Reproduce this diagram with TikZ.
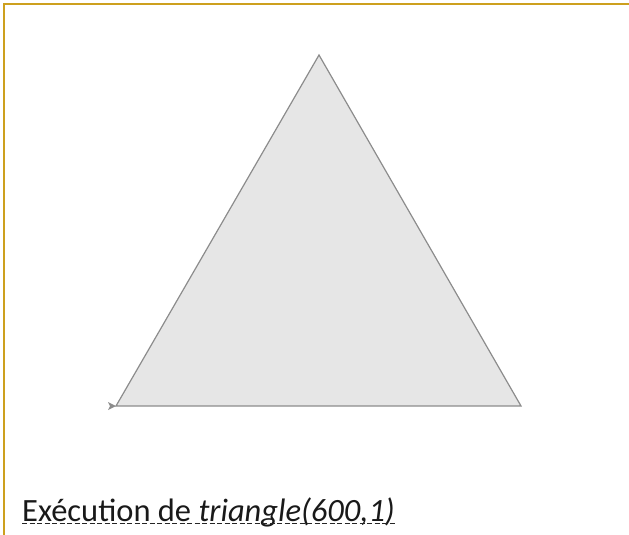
\documentclass[tikz,border=0pt]{standalone}
\usepackage{fontspec}
\setmainfont{Carlito}
\definecolor{gold}{RGB}{205,160,30}
\definecolor{trifill}{RGB}{230,230,230}
\definecolor{triline}{RGB}{140,140,140}
\begin{document}
\begin{tikzpicture}[x=1pt,y=-1pt,
  frameline/.style={draw=gold,line width=2.6pt},
  tri/.style={fill=trifill,draw=triline,line width=1.2pt,line join=miter},
  ulink/.style={draw=black!85,dash pattern=on 5pt off 2.5pt,line width=1.2pt}]
\useasboundingbox (0,0) rectangle (629,535);
\draw[frameline] (4,535) -- (4,4) -- (629,4);
\coordinate (A) at (319,55);
\coordinate (B) at (521,406);
\coordinate (C) at (116,406);
\filldraw[tri] (A) -- (B) -- (C) -- cycle;
\fill[triline] (108,402) -- (116,406) -- (108,410) -- (110,406) -- cycle;
\node[anchor=base west,inner sep=0pt,font=\fontsize{32.5}{38}\selectfont,text=black!90] (cap) at (22,521) {Exécution de \textit{triangle(600,1)}};
\draw[ulink] ([yshift=-2.8pt]cap.base west) -- ([yshift=-2.8pt]cap.base east);
\end{tikzpicture}
\end{document}
